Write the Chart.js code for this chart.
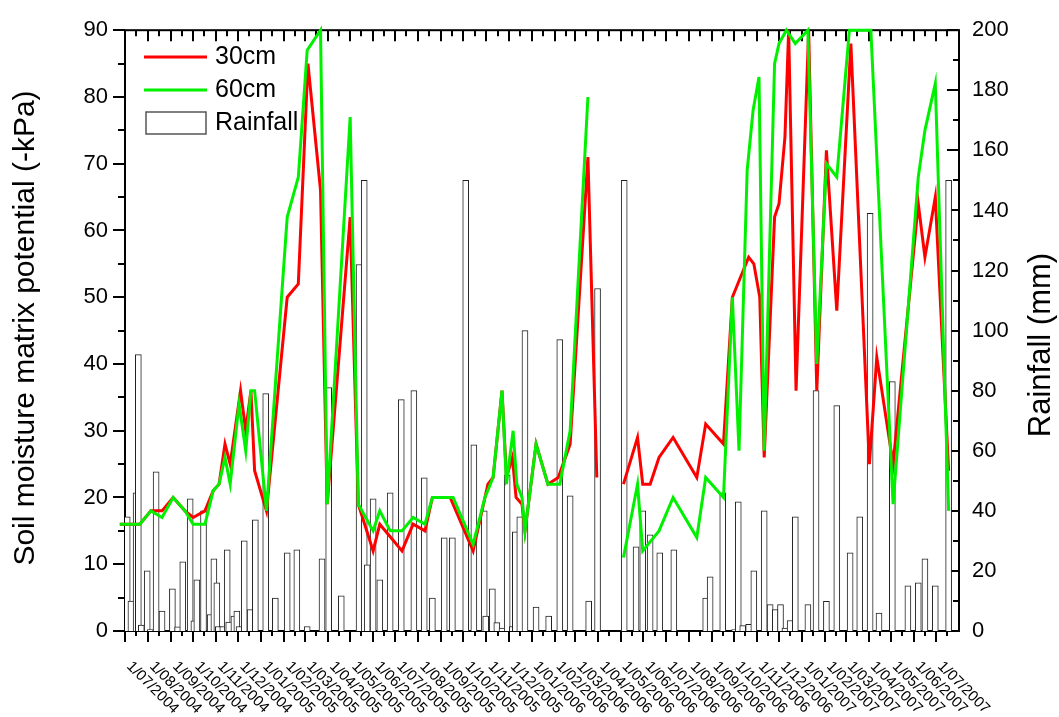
<!DOCTYPE html>
<html>
<head>
<meta charset="utf-8">
<script src="https://cdn.jsdelivr.net/npm/chart.js@4.4.0/dist/chart.umd.min.js"></script>
<style>
  html, body { margin: 0; padding: 0; background: #fff; }
  #chart { display: block; }
</style>
</head>
<body>
<canvas id="chart" width="1059" height="717"></canvas>
<script>
'use strict';

// month labels along the date axis
var monthTicks = [
    '1/07/2004', '1/08/2004', '1/09/2004', '1/10/2004', '1/11/2004', '1/12/2004',
    '1/01/2005', '1/02/2005', '1/03/2005', '1/04/2005', '1/05/2005', '1/06/2005',
    '1/07/2005', '1/08/2005', '1/09/2005', '1/10/2005', '1/11/2005', '1/12/2005',
    '1/01/2006', '1/02/2006', '1/03/2006', '1/04/2006', '1/05/2006', '1/06/2006',
    '1/07/2006', '1/08/2006', '1/09/2006', '1/10/2006', '1/11/2006', '1/12/2006',
    '1/01/2007', '1/02/2007', '1/03/2007', '1/04/2007', '1/05/2007', '1/06/2007',
    '1/07/2007'
];
var axisStart = '1/07/2004';
var axisEnd = '1/08/2007';

// soil moisture matrix potential at 30cm (-kPa)
var dates30 = [
    '24/06/2004', '21/07/2004', '5/08/2004', '20/08/2004', '4/09/2004', '20/09/2004', '1/10/2004', '17/10/2004',
    '28/10/2004', '5/11/2004', '13/11/2004', '20/11/2004', '4/12/2004', '11/12/2004', '18/12/2004', '23/12/2004',
    '8/01/2005', '5/02/2005', '20/02/2005', '5/03/2005', '22/03/2005', '31/03/2005', '1/05/2005', '12/05/2005',
    '1/06/2005', '10/06/2005', '10/07/2005', '25/07/2005', '10/08/2005', '20/08/2005', '13/09/2005', '14/10/2005',
    '30/10/2005', '3/11/2005', '10/11/2005', '22/11/2005', '28/11/2005', '6/12/2005', '11/12/2005', '19/12/2005',
    '23/12/2005',
    '7/01/2006', '23/01/2006', '6/02/2006', '22/02/2006', '18/03/2006', '30/03/2006', '20/04/2006', '5/05/2006',
    '24/05/2006', '31/05/2006', '10/06/2006', '22/06/2006', '11/07/2006', '12/08/2006', '24/08/2006', '17/09/2006',
    '29/09/2006', '21/10/2006', '28/10/2006', '5/11/2006', '11/11/2006', '25/11/2006', '1/12/2006', '9/12/2006',
    '14/12/2006', '24/12/2006',
    '10/01/2007', '21/01/2007', '3/02/2007', '17/02/2007', '8/03/2007', '2/04/2007', '12/04/2007', '4/05/2007',
    '7/06/2007', '16/06/2007', '30/06/2007', '18/07/2007'
];
var soil30 = [
    16, 16, 18, 18, 20, 18, 17, 18, 21, 22, 28, 25, 36, 30, 36, 24,
    18, 50, 52, 85, 66, 19, 62, 19, 12, 16, 12, 16, 15, 20, 20, 12, 20, 22, 23, 36, 23, 26, 20, 19, 15,
    28, 22, 23, 28, 71, 23, null, 22, 29, 22, 22, 26, 29, 23, 31, 28, 50, 56, 55, 50, 26, 62, 64, 74, 90, 36,
    90, 36, 72, 48, 88, 25, 41, 25, 64, 56, 65, 24
];

// soil moisture matrix potential at 60cm (-kPa)
var dates60 = [
    '24/06/2004', '21/07/2004', '5/08/2004', '20/08/2004', '4/09/2004', '20/09/2004', '1/10/2004', '17/10/2004',
    '28/10/2004', '5/11/2004', '13/11/2004', '20/11/2004', '2/12/2004', '11/12/2004', '18/12/2004', '23/12/2004',
    '8/01/2005', '5/02/2005', '20/02/2005', '4/03/2005', '22/03/2005', '31/03/2005', '1/05/2005', '12/05/2005',
    '1/06/2005', '10/06/2005', '24/06/2005', '10/07/2005', '25/07/2005', '10/08/2005', '20/08/2005', '17/09/2005',
    '14/10/2005', '30/10/2005', '10/11/2005', '22/11/2005', '28/11/2005', '7/12/2005', '12/12/2005', '19/12/2005',
    '23/12/2005',
    '7/01/2006', '23/01/2006', '8/02/2006', '22/02/2006', '18/03/2006', '20/04/2006', '5/05/2006', '24/05/2006',
    '31/05/2006', '22/06/2006', '11/07/2006', '12/08/2006', '24/08/2006', '17/09/2006', '29/09/2006', '8/10/2006',
    '19/10/2006', '27/10/2006', '4/11/2006', '11/11/2006', '25/11/2006', '1/12/2006', '11/12/2006', '23/12/2006',
    '9/01/2007', '21/01/2007', '3/02/2007', '17/02/2007', '6/03/2007', '4/04/2007', '4/05/2007', '7/06/2007',
    '16/06/2007', '30/06/2007', '18/07/2007'
];
var soil60 = [
    16, 16, 18, 17, 20, 18, 16, 16, 21, 22, 26, 22, 34, 27, 36, 36,
    18, 62, 68, 87, 90, 19, 77, 19, 15, 18, 15, 15, 17, 16, 20, 20, 13, 20, 23, 36, 22, 30, 22, 20, 15,
    28, 22, 22, 30, 80, null, 11, 22, 12, 15, 20, 14, 23, 20, 50, 27, 69, 78, 83, 27, 85, 88, 90, 88,
    90, 40, 70, 68, 90, 90, 19, 68, 75, 82, 18
];

// rainfall (mm)
var rainDates = [
    '4/07/2004', '9/07/2004', '16/07/2004', '19/07/2004', '23/07/2004', '31/07/2004', '4/08/2004', '12/08/2004',
    '20/08/2004', '3/09/2004', '10/09/2004', '17/09/2004', '27/09/2004', '2/10/2004', '6/10/2004', '15/10/2004',
    '24/10/2004', '29/10/2004', '2/11/2004', '4/11/2004', '10/11/2004', '16/11/2004', '18/11/2004', '25/11/2004',
    '29/11/2004', '2/12/2004', '9/12/2004', '17/12/2004', '24/12/2004',
    '7/01/2005', '20/01/2005', '5/02/2005', '18/02/2005', '4/03/2005', '24/03/2005', '2/04/2005', '19/04/2005',
    '13/05/2005', '20/05/2005', '24/05/2005', '1/06/2005', '10/06/2005', '24/06/2005', '9/07/2005', '26/07/2005',
    '9/08/2005', '20/08/2005', '5/09/2005', '16/09/2005', '4/10/2005', '15/10/2005', '29/10/2005', '31/10/2005',
    '9/11/2005', '15/11/2005', '22/11/2005', '29/11/2005', '6/12/2005', '10/12/2005', '16/12/2005', '23/12/2005',
    '7/01/2006', '24/01/2006', '8/02/2006', '22/02/2006', '19/03/2006', '31/03/2006', '6/05/2006', '22/05/2006',
    '31/05/2006', '10/06/2006', '23/06/2006', '12/07/2006', '24/08/2006', '30/08/2006', '16/09/2006', '2/10/2006',
    '7/10/2006', '13/10/2006', '21/10/2006', '28/10/2006', '11/11/2006', '19/11/2006', '26/11/2006', '3/12/2006',
    '9/12/2006', '16/12/2006', '23/12/2006',
    '9/01/2007', '20/01/2007', '3/02/2007', '17/02/2007', '7/03/2007', '20/03/2007', '3/04/2007', '15/04/2007',
    '3/05/2007', '24/05/2007', '7/06/2007', '16/06/2007', '30/06/2007', '18/07/2007'
];
var rainfall = [
    38, 10, 46, 92, 2, 20, 0.5, 53, 6.6, 14, 1.4, 23, 44, 3.4, 17, 40, 5.5, 24, 16, 1.5, 1.5, 27, 3, 5, 6.6, 1.5, 30, 7.1, 37,
    79, 11, 26, 27, 1.5, 24, 81, 11.7, 122, 150, 22, 44, 17, 46, 77, 80, 51, 11, 31, 31, 150, 62, 40, 5, 14, 2.8, 1, 52, 1.5, 33, 38, 100,
    8, 5, 97, 45, 10, 114, 150, 28, 40, 32, 26, 27, 11, 18, 46, 0.5, 43, 1.8, 2.2, 20, 40, 8.8, 7.1, 8.8, 1, 3.5, 38,
    8.8, 80, 9.9, 75, 26, 38, 139, 6, 83, 15, 16, 24, 15, 150
];

var FONT = '"Liberation Sans", Arial, Helvetica, sans-serif';

// days since 1 July 2004 for a d/mm/yyyy string
function dayOf( s ) {
    var p = s.split( '/' );
    return ( Date.UTC( +p[2], +p[1] - 1, +p[0] ) - Date.UTC( 2004, 6, 1 ) ) / 86400000;
}

function points( dates, values ) {
    return dates.map( function( d, i ) {
        return { x: dayOf( d ), y: values[ i ] };
    });
}

// frame, tick marks, rotated date labels, titles and legend
var decorations = {
    id: 'decorations',
    beforeDatasetsDraw: function( chart ) {
        var ctx = chart.ctx, a = chart.chartArea;
        var x = chart.scales.x, y = chart.scales.y, y1 = chart.scales.y1;
        ctx.save();
        ctx.strokeStyle = '#000';
        ctx.lineWidth = 2;
        ctx.strokeRect( a.left, a.top, a.right - a.left, a.bottom - a.top );
        ctx.beginPath();
        monthTicks.forEach( function( t ) {
            var px = Math.round( x.getPixelForValue( dayOf( t ) ) );
            ctx.moveTo( px, a.bottom ); ctx.lineTo( px, a.bottom + 11 );
            ctx.moveTo( px, a.top ); ctx.lineTo( px, a.top + 11 );
            var mid = Math.round( x.getPixelForValue( dayOf( t ) + 15 ) );
            ctx.moveTo( mid, a.bottom ); ctx.lineTo( mid, a.bottom + 5 );
            ctx.moveTo( mid, a.top ); ctx.lineTo( mid, a.top + 6 );
        });
        for ( var v = 0; v <= 90; v += 5 ) {
            var py = Math.round( y.getPixelForValue( v ) );
            ctx.moveTo( a.left - ( v % 10 === 0 ? 12 : 7 ), py ); ctx.lineTo( a.left, py );
        }
        for ( var r = 0; r <= 200; r += 10 ) {
            var ry = Math.round( y1.getPixelForValue( r ) );
            ctx.moveTo( a.right - ( r % 20 === 0 ? 12 : 6 ), ry ); ctx.lineTo( a.right, ry );
        }
        ctx.stroke();
        ctx.restore();
    },
    afterDraw: function( chart ) {
        var ctx = chart.ctx, a = chart.chartArea, x = chart.scales.x;
        var sets = chart.data.datasets;
        ctx.save();
        ctx.fillStyle = '#000';

        // date labels, slanting down to the right
        ctx.font = '15px ' + FONT;
        ctx.textAlign = 'left';
        ctx.textBaseline = 'alphabetic';
        monthTicks.forEach( function( t ) {
            var px = x.getPixelForValue( dayOf( t ) );
            ctx.save();
            ctx.translate( px + 1, a.bottom + 36 );
            ctx.rotate( Math.PI / 4 );
            ctx.fillText( t, 0, 0 );
            ctx.restore();
        });

        // axis titles
        ctx.font = '30px ' + FONT;
        ctx.textAlign = 'center';
        ctx.save();
        ctx.translate( 34, 328 );
        ctx.rotate( -Math.PI / 2 );
        ctx.fillText( 'Soil moisture matrix potential (-kPa)', 0, 0 );
        ctx.restore();
        ctx.font = '31px ' + FONT;
        ctx.save();
        ctx.translate( 1050, 345 );
        ctx.rotate( -Math.PI / 2 );
        ctx.fillText( 'Rainfall (mm)', 0, 0 );
        ctx.restore();

        // legend
        ctx.font = '25px ' + FONT;
        ctx.textAlign = 'left';
        ctx.textBaseline = 'middle';
        var rows = [ sets[1], sets[0] ];
        rows.forEach( function( ds, i ) {
            var ly = 57 + i * 33;
            ctx.strokeStyle = ds.borderColor;
            ctx.lineWidth = 3;
            ctx.beginPath();
            ctx.moveTo( 144, ly ); ctx.lineTo( 207, ly );
            ctx.stroke();
            ctx.fillText( ds.label, 215, ly );
        });
        ctx.fillStyle = '#fff';
        ctx.fillRect( 146, 112, 60, 22 );
        ctx.strokeStyle = '#555';
        ctx.lineWidth = 1.5;
        ctx.strokeRect( 146, 112, 60, 22 );
        ctx.fillStyle = '#000';
        ctx.fillText( sets[2].label, 215, 123 );
        ctx.restore();
    }
};

Chart.defaults.font.family = FONT;
Chart.defaults.color = '#000';

var chart = new Chart( document.getElementById( 'chart' ), {
    type: 'bar',
    data: {
        datasets: [
            {
                type: 'line',
                label: '60cm',
                data: points( dates60, soil60 ),
                borderColor: '#00f000',
                borderWidth: 3,
                pointRadius: 0,
                tension: 0,
                clip: false,
                yAxisID: 'y',
                order: 0,
            },
            {
                type: 'line',
                label: '30cm',
                data: points( dates30, soil30 ),
                borderColor: '#ff0000',
                borderWidth: 3,
                pointRadius: 0,
                tension: 0,
                clip: false,
                yAxisID: 'y',
                order: 1,
            },
            {
                type: 'bar',
                label: 'Rainfall',
                data: points( rainDates, rainfall ),
                backgroundColor: '#fff',
                borderColor: '#222',
                borderWidth: 1,
                barThickness: 6,
                yAxisID: 'y1',
                order: 2,
            },
        ],
    },
    plugins: [ decorations ],
    options: {
        responsive: false,
        animation: false,
        devicePixelRatio: 1,
        layout: { padding: { top: 18, left: 0, right: 0, bottom: 0 } },
        plugins: {
            legend: { display: false },
            tooltip: { enabled: false },
        },
        scales: {
            x: {
                type: 'linear',
                offset: false,
                min: dayOf( axisStart ),
                max: dayOf( axisEnd ),
                grid: { display: false, drawTicks: false },
                border: { display: false },
                ticks: { display: false },
                afterFit: function( scale ) { scale.height = 86; },
            },
            y: {
                position: 'left',
                min: 0,
                max: 90,
                grid: { display: false, drawTicks: false },
                border: { display: false },
                ticks: { stepSize: 10, padding: 17, font: { size: 22 } },
                afterFit: function( scale ) { scale.width = 125; },
            },
            y1: {
                position: 'right',
                min: 0,
                max: 200,
                grid: { display: false, drawTicks: false },
                border: { display: false },
                ticks: { stepSize: 20, padding: 13, font: { size: 22 } },
                afterFit: function( scale ) { scale.width = 100; },
            },
        },
    },
});
</script>
</body>
</html>
